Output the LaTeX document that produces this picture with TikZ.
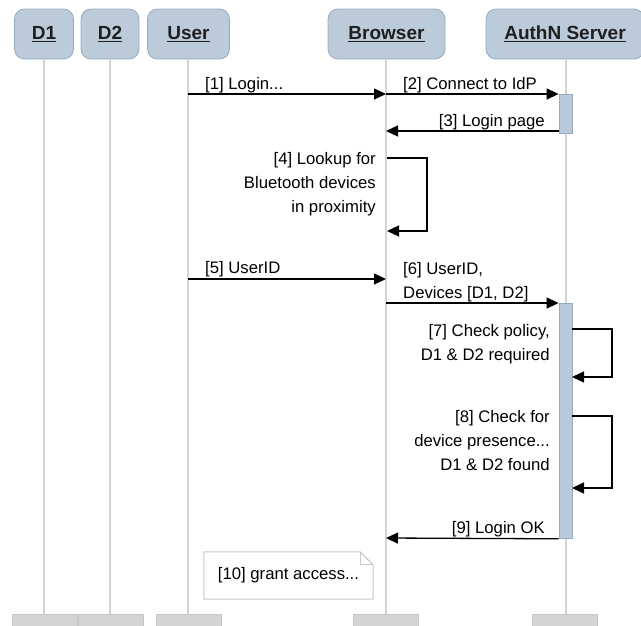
\documentclass[tikz,border=0pt]{standalone}
\usepackage{fontspec}
\setmainfont{Liberation Sans}
\usetikzlibrary{arrows.meta}
\definecolor{hdrfill}{RGB}{188,203,218}
\definecolor{hdrdraw}{RGB}{150,170,192}
\definecolor{actfill}{RGB}{184,201,217}
\definecolor{lifegray}{RGB}{212,212,212}
\definecolor{footgray}{RGB}{212,212,212}
\definecolor{notedraw}{RGB}{200,200,200}
\newcommand\hdrul[1]{\setbox0\hbox{#1}\rlap{\rule[-2.6pt]{\wd0}{1.3pt}}\box0}
\begin{document}
\begin{tikzpicture}[x=1pt,y=-1pt,
  hdr/.style={draw=hdrdraw, fill=hdrfill, rounded corners=10pt, minimum height=50pt,
    inner sep=0pt, line width=0.8pt, text=black!88,
    font=\fontsize{19}{22}\selectfont\bfseries},
  foot/.style={fill=footgray, draw=footgray!94!black, line width=0.5pt,
    minimum width=65pt, minimum height=14pt, inner sep=0pt, anchor=north},
  life/.style={draw=lifegray, line width=1.5pt},
  msg/.style={line width=1.3pt, line join=miter, -{Triangle[length=12pt,width=11pt]}},
  lbl/.style={font=\fontsize{16.7}{24}\selectfont, inner sep=0pt, text=black},
  act/.style={fill=actfill, draw=hdrdraw, line width=0.8pt, minimum width=13pt,
    inner sep=0pt, anchor=north},
  notebox/.style={minimum width=169pt, minimum height=47pt, inner sep=0pt,
    font=\fontsize{16.7}{24}\selectfont}]
\useasboundingbox (0,0) rectangle (641,625);

% headers
\node[hdr, minimum width=59pt] (d1h) at (44,34) {\hdrul{D1}};
\node[hdr, minimum width=58pt] (d2h) at (110,34) {\hdrul{D2}};
\node[hdr, minimum width=82pt] (userh) at (188.5,34) {\hdrul{User}};
\node[hdr, minimum width=117pt] (browserh) at (386.5,34) {\hdrul{Browser}};
\node[hdr, minimum width=158pt] (authh) at (565,34) {\hdrul{AuthN Server}};

% footers
\node[foot] (d1f) at (44.5,614) {};
\node[foot] (d2f) at (111,614) {};
\node[foot] (userf) at (188.5,614) {};
\node[foot] (browserf) at (386,614) {};
\node[foot] (authf) at (565,614) {};

% lifelines
\draw[life] (44,59) coordinate (d1t) -- (d1t |- d1f.north);
\draw[life] (110,59) coordinate (d2t) -- (d2t |- d2f.north);
\draw[life] (188,59) coordinate (ut) -- (ut |- userf.north);
\draw[life] (386,59) coordinate (bt) -- (bt |- browserf.north);
\draw[life] (566,59) coordinate (at) -- (at |- authf.north);

% activation bars
\node[act, minimum height=39pt] (act1) at (565.5,94) {};
\node[act, minimum height=235pt] (act2) at (565.5,303) {};

% [1]
\coordinate (u1) at (188,94);
\coordinate (b1) at (386,94);
\draw[msg] (u1) -- (b1);
\node[lbl, anchor=base west] (l1) at (205,89) {[1] Login...};
% [2]
\draw[msg] (b1) -- (act1.north west);
\node[lbl, anchor=base west] (l2) at (403,89) {[2] Connect to IdP};
% [3]
\coordinate (a3) at (559,131);
\coordinate (b3) at (386,131);
\draw[msg] (a3) -- (b3);
\node[lbl, anchor=base east] (l3) at (545,126) {[3] Login page};
% [4]
\coordinate (b4s) at (387,158);
\coordinate (b4e) at (387,231);
\draw[msg] (b4s) -- (427,158) -- (427,231) -- (b4e);
\node[lbl, align=right, anchor=north east] (l4) at (376,151.8)
  {[4] Lookup for\\Bluetooth devices\\in proximity};
% [5]
\coordinate (u5) at (188,279);
\coordinate (b5) at (386,279);
\draw[msg] (u5) -- (b5);
\node[lbl, anchor=base west] (l5) at (205,273) {[5] UserID};
% [6]
\coordinate (b6) at (386,303);
\draw[msg] (b6) -- (act2.north west);
\node[lbl, align=left, anchor=north west] (l6) at (403,261.8)
  {[6] UserID,\\Devices [D1, D2]};
% [7]
\coordinate (a7s) at (572,329);
\coordinate (a7e) at (572,377);
\draw[msg] (a7s) -- (612,329) -- (612,377) -- (a7e);
\node[lbl, align=right, anchor=north east] (l7) at (550,323.8)
  {[7] Check policy,\\D1 \& D2 required};
% [8]
\coordinate (a8s) at (572,416);
\coordinate (a8e) at (572,488);
\draw[msg] (a8s) -- (612,416) -- (612,488) -- (a8e);
\node[lbl, align=right, anchor=north east] (l8) at (550,409.8)
  {[8] Check for\\device presence...\\D1 \& D2 found};
% [9]
\coordinate (b9) at (386,538);
\draw[msg] (act2.south west) -- (b9);
\node[lbl, anchor=base east] (l9) at (545,533) {[9] Login OK};

% [10] note
\node[notebox] (note) at (288.5,575.5) {[10] grant access...};
\draw[notedraw, line width=1pt, line join=miter]
  (note.south west) -- (note.north west) -- ([xshift=-13pt]note.north east)
  -- ([yshift=-13pt]note.north east) -- (note.south east) -- cycle;
\draw[notedraw, line width=1pt]
  ([xshift=-13pt]note.north east) -- ([xshift=-13pt,yshift=-13pt]note.north east)
  -- ([yshift=-13pt]note.north east);
\end{tikzpicture}
\end{document}
